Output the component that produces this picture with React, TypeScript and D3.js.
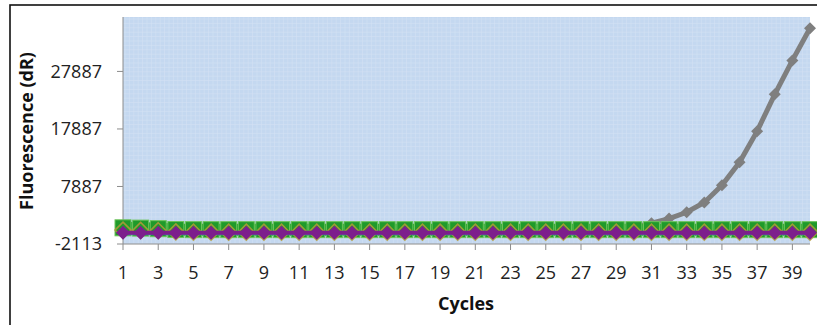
import React from 'react';
import * as d3 from 'd3';

// cycle numbers on the category axis
const cycles = [1, 2, 3, 4, 5, 6, 7, 8, 9, 10, 11, 12, 13, 14, 15, 16, 17, 18, 19, 20,
  21, 22, 23, 24, 25, 26, 27, 28, 29, 30, 31, 32, 33, 34, 35, 36, 37, 38, 39, 40];

// amplifying sample (grey)
const greySeries = [700, 650, 600, 550, 550, 500, 500, 500, 500, 500, 500, 500, 500, 500, 500, 500, 500, 500, 500, 500,
  500, 500, 500, 500, 500, 500, 500, 550, 600, 800, 1500, 2300, 3400, 5100, 8100, 12100, 17500, 23900, 29800, 35400];

// flat negatives
const greenSeries = [700, 650, 550, 400, 380, 380, 380, 380, 380, 380, 380, 380, 380, 380, 380, 380, 380, 380, 380, 380,
  380, 380, 380, 380, 380, 380, 380, 380, 380, 380, 380, 380, 380, 380, 380, 380, 380, 380, 380, 380];
const orangeSeries = [300, 250, 200, 0, -50, -50, -50, -50, -50, -50, -50, -50, -50, -50, -50, -50, -50, -50, -50, -50,
  -50, -50, -50, -50, -50, -50, -50, -50, -50, -50, -50, -50, -50, -50, -50, -50, -50, -50, -50, -50];
const blueSeries = [-450, -450, -450, -450, -450, -450, -450, -450, -450, -450, -450, -450, -450, -450, -450, -450, -450, -450, -450, -450,
  -450, -450, -450, -450, -450, -450, -450, -450, -450, -450, -450, -450, -450, -450, -450, -450, -450, -450, -450, -450];
const purpleSeries = [-150, -150, -150, -150, -150, -150, -150, -150, -150, -150, -150, -150, -150, -150, -150, -150, -150, -150, -150, -150,
  -150, -150, -150, -150, -150, -150, -150, -150, -150, -150, -150, -150, -150, -150, -150, -150, -150, -150, -150, -150];

const yTicks = [-2113, 7887, 17887, 27887];
const xTickLabels = [1, 3, 5, 7, 9, 11, 13, 15, 17, 19, 21, 23, 25, 27, 29, 31, 33, 35, 37, 39];

const width = 817;
const height = 325;
const plot = { left: 123, right: 810, top: 17, bottom: 244 };

export default function App() {
  const x = d3.scaleLinear().domain([1, 40]).range([plot.left, plot.right]);
  const y = d3.scaleLinear().domain([-2113, 37350]).range([plot.bottom, plot.top]);

  const line = (vals: number[]) =>
    d3.line<number>().x((d, i) => x(cycles[i])).y(d => y(d))(vals) || '';

  const diamond = (cx: number, cy: number, r: number) =>
    `M${cx},${cy - r}L${cx + r},${cy}L${cx},${cy + r}L${cx - r},${cy}Z`;

  // fine pattern of the plot fill
  const gridX = d3.range(plot.left + 2, plot.right, 4.4);
  const gridY = d3.range(plot.top + 2, plot.bottom, 4.4);

  const font = "'Open Sans', sans-serif";

  return (
    <svg width={width} height={height} style={{ position: 'absolute', left: 0, top: 0, background: '#fff' }}>
      <rect x={10} y={5} width={820} height={330} fill="none" stroke="#111" strokeWidth={1.6} />

      <rect x={plot.left} y={plot.top} width={plot.right - plot.left} height={plot.bottom - plot.top} fill="#c4d8f0" />
      {gridX.map((gx, i) => (
        <line key={'gx' + i} x1={gx} x2={gx} y1={plot.top} y2={plot.bottom} stroke="#d4e2f4" strokeWidth={1} opacity={0.6} />
      ))}
      {gridY.map((gy, i) => (
        <line key={'gy' + i} x1={plot.left} x2={plot.right} y1={gy} y2={gy} stroke="#d4e2f4" strokeWidth={1} opacity={0.6} />
      ))}

      {/* axes */}
      <line x1={plot.left} x2={plot.left} y1={plot.top} y2={plot.bottom} stroke="#8c8c8c" strokeWidth={1} />
      <line x1={plot.left} x2={plot.right} y1={plot.bottom} y2={plot.bottom} stroke="#8c8c8c" strokeWidth={1} />
      {yTicks.map(t => (
        <g key={'yt' + t}>
          <line x1={plot.left - 6} x2={plot.left} y1={y(t)} y2={y(t)} stroke="#8c8c8c" />
          <text x={102} y={y(t)} dy="0.36em" textAnchor="end" fontFamily={font} fontSize={18} fill="#222">{t}</text>
        </g>
      ))}
      {xTickLabels.map(t => (
        <g key={'xt' + t}>
          <line x1={x(t)} x2={x(t)} y1={plot.bottom} y2={plot.bottom + 6} stroke="#8c8c8c" />
          <text x={x(t)} y={279} textAnchor="middle" fontFamily={font} fontSize={18} fill="#222">{t}</text>
        </g>
      ))}

      {/* grey amplification curve */}
      <path d={line(greySeries)} fill="none" stroke="#7f7f7f" strokeWidth={5} />
      {greySeries.map((v, i) => (
        <path key={'gm' + i} d={diamond(x(cycles[i]), y(v), 6)} fill="#7f7f7f" />
      ))}

      {/* green band */}
      <path d={line(greenSeries)} fill="none" stroke="#1f9a2a" strokeWidth={12} />
      {greenSeries.map((v, i) => (
        <rect key={'sq' + i} x={x(cycles[i]) - 8} y={y(v) - 8} width={16} height={16} fill="#1f9a2a" stroke="#6cc45a" strokeWidth={1} />
      ))}

      {/* orange */}
      {orangeSeries.map((v, i) => (
        <path key={'om' + i} d={diamond(x(cycles[i]), y(v), 8)} fill="none" stroke="#b49a3a" strokeWidth={1.6} opacity={0.85} />
      ))}

      {/* blue */}
      <path d={line(blueSeries)} fill="none" stroke="#3a7fc2" strokeWidth={1.5} opacity={0.8} />

      {/* purple */}
      <path d={line(purpleSeries)} fill="none" stroke="#7d1e8c" strokeWidth={4} />
      {purpleSeries.map((v, i) => (
        <path key={'pm' + i} d={diamond(x(cycles[i]), y(v), 7)} fill="#7d1e8c" />
      ))}

      <text transform="translate(33,131) rotate(-90)" textAnchor="middle" fontFamily={font} fontWeight="bold" fontSize={18} fill="#111">
        Fluorescence (dR)
      </text>
      <text x={466} y={310} textAnchor="middle" fontFamily={font} fontWeight="bold" fontSize={18} fill="#111">Cycles</text>
    </svg>
  );
}
